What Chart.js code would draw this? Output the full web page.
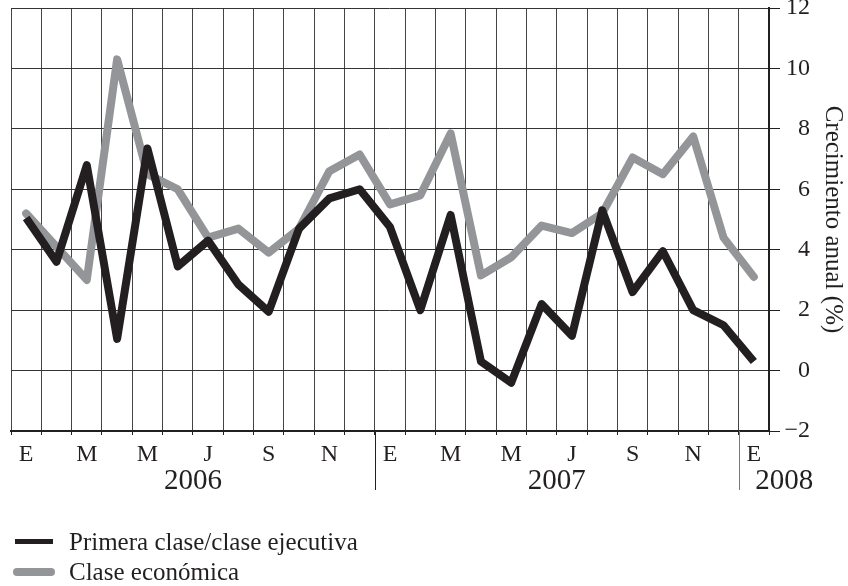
<!DOCTYPE html>
<html>
<head>
<meta charset="utf-8">
<title>Crecimiento anual</title>
<script src="https://cdn.jsdelivr.net/npm/chart.js@4/dist/chart.umd.min.js"></script>
<style>
  html, body { margin: 0; padding: 0; background: #fff; }
  #wrap { position: relative; width: 848px; height: 586px; }
  #chart { position: absolute; left: 0; top: 0; }
  .legend-row {
    position: absolute; left: 0; height: 30px; width: 500px;
    font: 25px 'Liberation Serif', 'Times New Roman', serif; color: #231f20;
  }
  .legend-row .swatch { position: absolute; }
  .legend-row .label { position: absolute; left: 69px; top: 0; line-height: 30px; white-space: nowrap; }
</style>
</head>
<body>
<div id="wrap">
  <canvas id="chart" width="848" height="586"></canvas>
  <div class="legend-row" style="top: 527px;">
    <div class="swatch" style="left: 15px; top: 12px; width: 38px; height: 5px; background: #231f20;"></div>
    <span class="label">Primera clase/clase ejecutiva</span>
  </div>
  <div class="legend-row" style="top: 557px;">
    <div class="swatch" style="left: 13px; top: 11px; width: 42px; height: 8px; border-radius: 4px; background: #939598;"></div>
    <span class="label">Clase económica</span>
  </div>
</div>
<script>
// months Jan 2006 .. Jan 2008
const months = ['E', 'F', 'M', 'A', 'M', 'J', 'J', 'A', 'S', 'O', 'N', 'D',
                'E', 'F', 'M', 'A', 'M', 'J', 'J', 'A', 'S', 'O', 'N', 'D',
                'E'];
const years = ['2006', '2007', '2008'];
const yearStarts = [0, 12, 24];

// annual growth (%)
const primeraClase = [5.05, 3.6, 6.8, 1.05, 7.35, 3.45, 4.3, 2.85, 1.95, 4.7, 5.7, 6.0,
                      4.75, 2.0, 5.15, 0.3, -0.4, 2.2, 1.15, 5.3, 2.6, 3.95, 2.0, 1.5,
                      0.3];
const claseEconomica = [5.2, 4.1, 3.0, 10.3, 6.5, 6.0, 4.4, 4.7, 3.9, 4.7, 6.6, 7.15,
                        5.5, 5.8, 7.85, 3.15, 3.75, 4.8, 4.55, 5.2, 7.05, 6.5, 7.75, 4.4,
                        3.1];

const yMin = -2;
const yMax = 12;
const yStep = 2;

const INK = '#231f20';
const GREY = '#939598';
const SERIF = "'Liberation Serif', 'Times New Roman', serif";

// year labels and year separators under the x axis
const yearPlugin = {
    id: 'yearPlugin',
    afterDraw(chart) {
        const { ctx, chartArea } = chart;
        const x = chart.scales.x;
        const step = x.getPixelForValue(1) - x.getPixelForValue(0);
        ctx.save();

        // separators between years
        yearStarts.slice(1).forEach((start, i) => {
            const px = Math.round(x.getPixelForValue(start) - step / 2) + 0.5;
            ctx.strokeStyle = i === 0 ? INK : '#777';
            ctx.lineWidth = 1;
            ctx.beginPath();
            ctx.moveTo(px, chartArea.bottom);
            ctx.lineTo(px, 490);
            ctx.stroke();
        });

        ctx.fillStyle = INK;
        ctx.font = '29px ' + SERIF;
        ctx.textAlign = 'center';
        ctx.textBaseline = 'middle';
        years.forEach((yr, i) => {
            const first = yearStarts[i];
            const last = i < yearStarts.length - 1 ? yearStarts[i + 1] - 1 : months.length - 1;
            let cx = (x.getPixelForValue(first) + x.getPixelForValue(last)) / 2;
            if (first === last) cx += step; // lone January: label sits right of it
            ctx.fillText(yr, cx, 481);
        });
        ctx.restore();
    }
};

new Chart(document.getElementById('chart'), {
    type: 'line',
    data: {
        labels: months,
        datasets: [
            {
                label: 'Primera clase/clase ejecutiva',
                data: primeraClase,
                borderColor: INK,
                borderWidth: 8,
                borderCapStyle: 'butt',
                borderJoinStyle: 'round',
                pointRadius: 0,
                tension: 0
            },
            {
                label: 'Clase económica',
                data: claseEconomica,
                borderColor: GREY,
                borderWidth: 8,
                borderCapStyle: 'round',
                borderJoinStyle: 'round',
                pointRadius: 0,
                tension: 0
            }
        ]
    },
    options: {
        responsive: false,
        animation: false,
        layout: { padding: { left: 11, top: 8, right: 38, bottom: 0 } },
        plugins: {
            legend: { display: false },
            tooltip: { enabled: false }
        },
        scales: {
            x: {
                offset: true,
                grid: {
                    offset: true,
                    color: '#444',
                    lineWidth: 1,
                    tickLength: 4,
                    tickColor: INK
                },
                border: { color: INK, width: 2 },
                ticks: {
                    autoSkip: false,
                    maxRotation: 0,
                    padding: 5,
                    color: INK,
                    font: { family: SERIF, size: 24 },
                    callback: (val, idx) => idx % 2 === 0 ? months[idx] : ''
                },
                afterFit(scale) {
                    scale.height = 155;
                    scale.paddingLeft = 0;
                    scale.paddingRight = 0;
                }
            },
            y: {
                position: 'right',
                min: yMin,
                max: yMax,
                grid: {
                    color: '#333',
                    lineWidth: 1,
                    tickLength: 11,
                    tickColor: INK
                },
                border: { color: INK, width: 2 },
                ticks: {
                    stepSize: yStep,
                    crossAlign: 'far',
                    padding: 5,
                    color: INK,
                    font: { family: SERIF, size: 24 },
                    callback: v => v < 0 ? '\u2212' + Math.abs(v) : String(v)
                },
                title: {
                    display: true,
                    text: 'Crecimiento anual (%)',
                    color: INK,
                    font: { family: SERIF, size: 25 },
                    padding: { top: -38, bottom: 0 }
                },
                afterFit(scale) {
                    scale.width = 41;
                    scale.paddingTop = 0;
                    scale.paddingBottom = 0;
                }
            }
        }
    },
    plugins: [yearPlugin]
});
</script>
</body>
</html>
